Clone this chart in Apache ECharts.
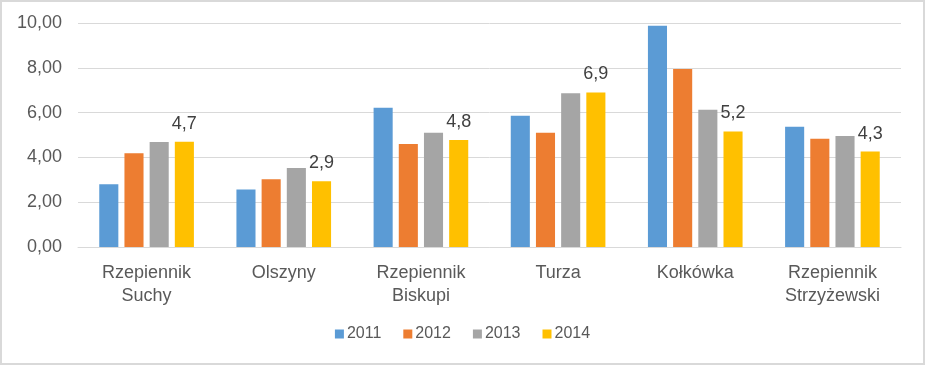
<!DOCTYPE html>
<html><head><meta charset="utf-8">
<script src="https://cdn.jsdelivr.net/npm/echarts@6/dist/echarts.min.js"></script>
<style>
html,body{margin:0;padding:0;background:#fff;}
#c{width:921px;height:361px;border:2px solid #d9d9d9;}
</style></head><body>
<div id="c"></div>
<script>
var categories = ['Rzepiennik\nSuchy','Olszyny','Rzepiennik\nBiskupi','Turza','Kołkówka','Rzepiennik\nStrzyżewski'];
var seriesNames = ['2011','2012','2013','2014'];
var v2011 = [2.80, 2.57, 6.22, 5.86, 9.88, 5.37];
var v2012 = [4.19, 3.02, 4.60, 5.10, 7.95, 4.83];
var v2013 = [4.69, 3.53, 5.10, 6.86, 6.13, 4.96];
var v2014 = [4.70, 2.93, 4.78, 6.90, 5.16, 4.26];
var colors = ['#5B9BD5','#ED7D31','#A5A5A5','#FFC000'];
var yTicks = {min:0, max:10, interval:2};

var font = 'Liberation Sans, sans-serif';
var chart = echarts.init(document.getElementById('c'));
var allVals = [v2011, v2012, v2013, v2014];
var series = seriesNames.map(function(n,i){
  return {
    name:n, type:'bar', data:allVals[i],
    barGap:'32%', barCategoryGap:'31%',
    itemStyle:{color:colors[i]},
    label:{show:i===3, position:'top', distance:9, color:'#404040', fontSize:18, fontFamily:font,
      formatter:function(p){return p.value.toFixed(1).replace('.',',');}}
  };
});
chart.setOption({
  animation:false,
  color:colors,
  textStyle:{fontFamily:font},
  grid:{left:76, right:22, top:21, bottom:116, containLabel:false},
  legend:{data:seriesNames, bottom:16, left:'center', itemWidth:9, itemHeight:9, itemGap:22,
    icon:'rect', textStyle:{color:'#595959', fontSize:16, fontFamily:font, padding:[0,0,0,-2]}},
  xAxis:{type:'category', data:categories,
    axisLine:{lineStyle:{color:'#d9d9d9'}}, axisTick:{show:false},
    axisLabel:{color:'#595959', fontSize:18, fontFamily:font, lineHeight:23, margin:15, interval:0}},
  yAxis:{type:'value', min:yTicks.min, max:yTicks.max, interval:yTicks.interval,
    axisLine:{show:false}, axisTick:{show:false},
    splitLine:{lineStyle:{color:'#d9d9d9'}},
    axisLabel:{color:'#595959', fontSize:18, fontFamily:font, margin:16,
      formatter:function(v){return v.toFixed(2).replace('.',',');}}},
  series:series
});
</script></body></html>
